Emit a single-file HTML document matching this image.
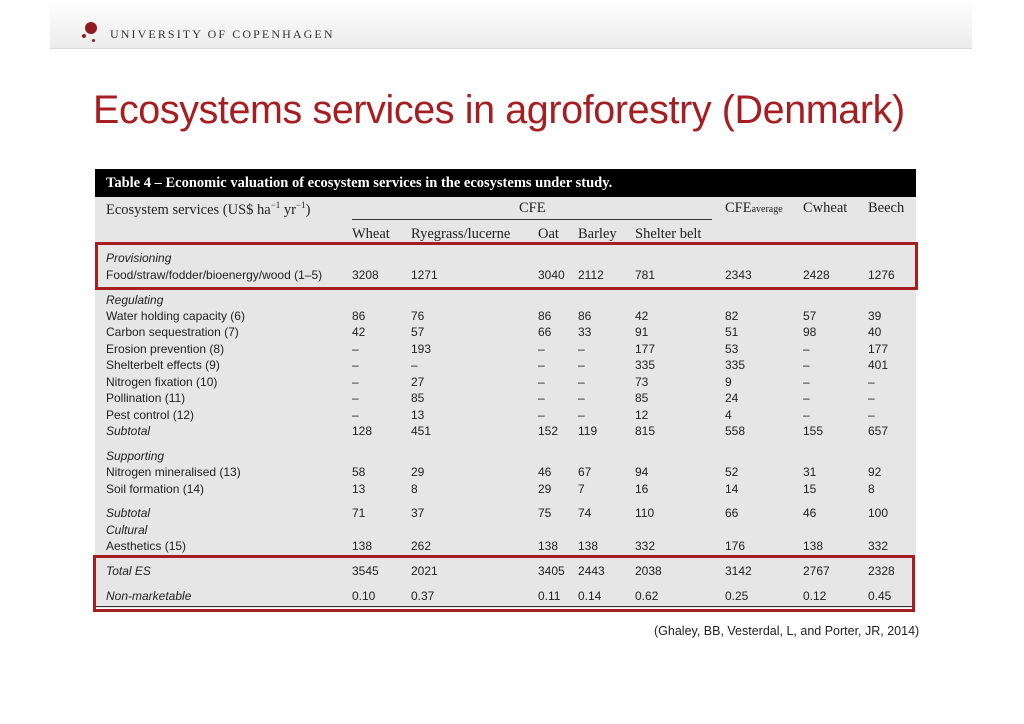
<!DOCTYPE html>
<html><head><meta charset="utf-8"><style>
body{margin:0;width:1024px;height:724px;background:#fff;position:relative;overflow:hidden;font-family:"Liberation Sans",sans-serif}
.abs{position:absolute;white-space:nowrap}
#topbar{position:absolute;left:50px;top:0;width:922px;height:48px;background:linear-gradient(#fff,#ececec);border-bottom:1px solid #d8d8d8}
#tbl{position:absolute;left:95px;top:169px;width:821px;height:439px;background:#e6e6e6}
#thead{position:absolute;left:95px;top:169px;width:821px;height:28px;background:#000;color:#fff;font-family:"Liberation Serif",serif;font-weight:bold;font-size:14.5px;line-height:28px;padding-left:11px;box-sizing:border-box}
.hd{font-family:"Liberation Serif",serif;font-size:14.5px;color:#222}
.c{font-size:12px;color:#222}
.it{font-style:italic}
.box{position:absolute;border:3px solid #a51e22;box-sizing:border-box}
</style></head><body>
<div id="topbar"></div>
<div class="abs" style="left:85px;top:22px;width:12px;height:12px;border-radius:50%;background:#901a1e"></div>
<div class="abs" style="left:82px;top:34px;width:4px;height:4px;border-radius:50%;background:#901a1e"></div>
<div class="abs" style="left:92px;top:39px;width:3px;height:3px;border-radius:50%;background:#901a1e"></div>
<div class="abs" style="left:110px;top:27px;font-family:'Liberation Serif',serif;font-size:12px;letter-spacing:2.1px;color:#333">UNIVERSITY OF COPENHAGEN</div>
<div class="abs" style="left:93px;top:88px;font-size:39.5px;color:#a51e22;letter-spacing:-0.4px">Ecosystems services in agroforestry (Denmark)</div>
<div id="tbl"></div>
<div id="thead">Table 4 – Economic valuation of ecosystem services in the ecosystems under study.</div>
<div class="abs hd" style="left:106px;top:200px">Ecosystem services (US$ ha<sup style="font-size:9px">−1</sup> yr<sup style="font-size:9px">−1</sup>)</div>
<div class="abs hd" style="left:519px;top:200px">CFE</div>
<div class="abs" style="left:352px;top:219px;width:360px;height:1px;background:#333"></div>
<div class="abs hd" style="left:725px;top:200px">CFE<span style="font-size:10px">average</span></div>
<div class="abs hd" style="left:803px;top:200px">Cwheat</div>
<div class="abs hd" style="left:868px;top:200px">Beech</div>
<div class="abs" style="left:95px;top:606px;width:818px;height:1px;background:#333"></div>
<div class="box" style="left:95px;top:242px;width:823px;height:48px"></div>
<div class="box" style="left:93px;top:555px;width:822px;height:57px"></div>
<div class="abs" style="left:654px;top:624px;font-size:12.5px;color:#222">(Ghaley, BB, Vesterdal, L, and Porter, JR, 2014)</div>
<script>
const colNames=["Wheat","Ryegrass/lucerne","Oat","Barley","Shelter belt"];
const rows=[
["Provisioning",null,257,1],
["Food/straw/fodder/bioenergy/wood (1–5)",["3208","1271","3040","2112","781","2343","2428","1276"],274,0],
["Regulating",null,299,1],
["Water holding capacity (6)",["86","76","86","86","42","82","57","39"],315,0],
["Carbon sequestration (7)",["42","57","66","33","91","51","98","40"],331,0],
["Erosion prevention (8)",["–","193","–","–","177","53","–","177"],348,0],
["Shelterbelt effects (9)",["–","–","–","–","335","335","–","401"],364,0],
["Nitrogen fixation (10)",["–","27","–","–","73","9","–","–"],381,0],
["Pollination (11)",["–","85","–","–","85","24","–","–"],397,0],
["Pest control (12)",["–","13","–","–","12","4","–","–"],414,0],
["Subtotal",["128","451","152","119","815","558","155","657"],430,1],
["Supporting",null,455,1],
["Nitrogen mineralised (13)",["58","29","46","67","94","52","31","92"],471,0],
["Soil formation (14)",["13","8","29","7","16","14","15","8"],488,0],
["Subtotal",["71","37","75","74","110","66","46","100"],512,1],
["Cultural",null,529,1],
["Aesthetics (15)",["138","262","138","138","332","176","138","332"],545,0],
["Total ES",["3545","2021","3405","2443","2038","3142","2767","2328"],570,1],
["Non-marketable",["0.10","0.37","0.11","0.14","0.62","0.25","0.12","0.45"],595,1]
];
const colX=[352,411,538,578,635,725,803,868];
colNames.forEach((n,i)=>{
 const d=document.createElement('div');d.className='abs hd';d.textContent=n;
 d.style.left=colX[i]+'px';d.style.top='226px';
 
 
 document.body.appendChild(d);
});
rows.forEach((r,ri)=>{
 const l=document.createElement('div');l.className='abs c'+(r[3]?' it':'');l.textContent=r[0];
 l.style.left='106px';l.style.top=(r[2]-6)+'px';
 
 
 document.body.appendChild(l);
 if(r[1])r[1].forEach((v,ci)=>{
  const c=document.createElement('div');c.className='abs c';c.textContent=v;
  c.style.left=colX[ci]+'px';c.style.top=(r[2]-6)+'px';
  
  
  document.body.appendChild(c);
 });
});
</script>
</body></html>
